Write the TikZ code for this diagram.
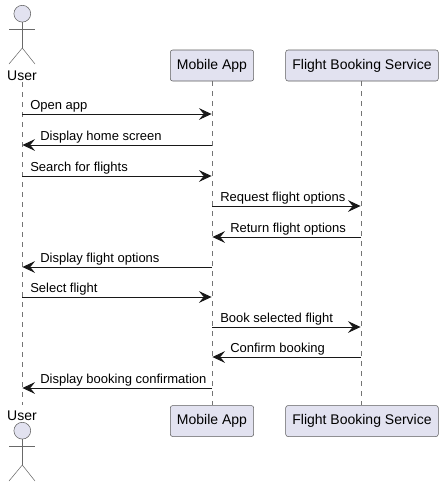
\documentclass[tikz,border=0pt]{standalone}
\usepackage{fontspec}
\setmainfont{Liberation Sans}
\usetikzlibrary{arrows.meta,positioning}
\definecolor{ink}{HTML}{181818}
\definecolor{pale}{HTML}{E2E2F0}
\begin{document}
\begin{tikzpicture}[x=.75pt,y=.75pt,node distance=23.6pt,
partbox/.style={draw=ink!70,line width=.4pt,rounded corners=1.8pt,fill=pale,inner xsep=5pt,inner ysep=0pt,
minimum height=23.25pt,font=\fontsize{10.5}{12}\selectfont},
headc/.style={circle,draw=ink!70,line width=.4pt,fill=pale,inner sep=0pt,minimum size=12.6pt},
limb/.style={draw=ink!65,line width=.4pt},
life/.style={draw=ink!60,line width=.4pt,dash pattern=on 3.75pt off 3.75pt},
arr/.style={-{Stealth[length=9.5pt,width=8.8pt,inset=3.6pt]},draw=ink,line width=.75pt,shorten >=.3pt},
actorname/.style={inner sep=0pt,font=\fontsize{10.5}{12}\selectfont},
msgtext/.style={inner sep=0pt,anchor=base west,font=\fontsize{9.75}{12}\selectfont}]
\useasboundingbox (0,0) rectangle (443,-487);
% participants
\node[partbox] (mobile) at (212,-65.5) {Mobile App};
\node[partbox,right=of mobile] (flight) {Flight Booking Service};
\node[partbox,below=243pt of mobile] (mobileend) {Mobile App};
\node[partbox,right=of mobileend] (flightend) {Flight Booking Service};
\node[actorname] (usertop) at (22,-75.5) {User};
\node[actorname] (userbot) at (22,-415.5) {User};
\coordinate (userstart) at (22,-82);
\coordinate (userstop) at (22,-405);
% stick figures
\foreach \a/\dy in {t/0,b/-417}{
\begin{scope}[yshift=\dy*.75pt]
\node[headc] (head\a) at (22.3,-13.7) {};
\coordinate (arml\a) at (9,-29);
\coordinate (armr\a) at (35,-29);
\coordinate (hip\a) at (22.3,-48);
\coordinate (footl\a) at (9,-64);
\coordinate (footr\a) at (35,-64);
\end{scope}
\draw[limb] (head\a)--(hip\a);\draw[limb] (arml\a)--(armr\a);
\draw[limb] (footl\a)--(hip\a)--(footr\a);
}
% lifelines
\draw[life] (userstart)--(userstop);
\draw[life] (mobile)--(mobileend);
\draw[life] ([xshift=-.75pt]flight.south)--([xshift=-.75pt]flightend.north);
% messages
\foreach \n/\y in {1/114,2/145,3/176,4/206,5/237,6/267,7/297,8/327,9/357,10/388}{
\coordinate (u\n) at (22,-\y);
\coordinate (m\n) at (212,-\y);
\coordinate (f\n) at (361,-\y);
}
\foreach \n/\from/\to in {1/u/m,2/m/u,3/u/m,4/m/f,5/f/m,6/m/u,7/u/m,8/m/f,9/f/m,10/m/u}
\draw[arr] (\from\n)--(\to\n);
\foreach \n/\tx/\y/\txt in {1/30/114/Open app,2/40/145/Display home screen,3/30/176/Search for flights,
4/220/206/Request flight options,5/230/237/Return flight options,6/40/267/Display flight options,
7/30/297/Select flight,8/220/327/Book selected flight,9/230/357/Confirm booking,
10/40/388/Display booking confirmation}
\node[msgtext] (label\n) at (\tx,-\y+4.2) {\txt};
\end{tikzpicture}
\end{document}
